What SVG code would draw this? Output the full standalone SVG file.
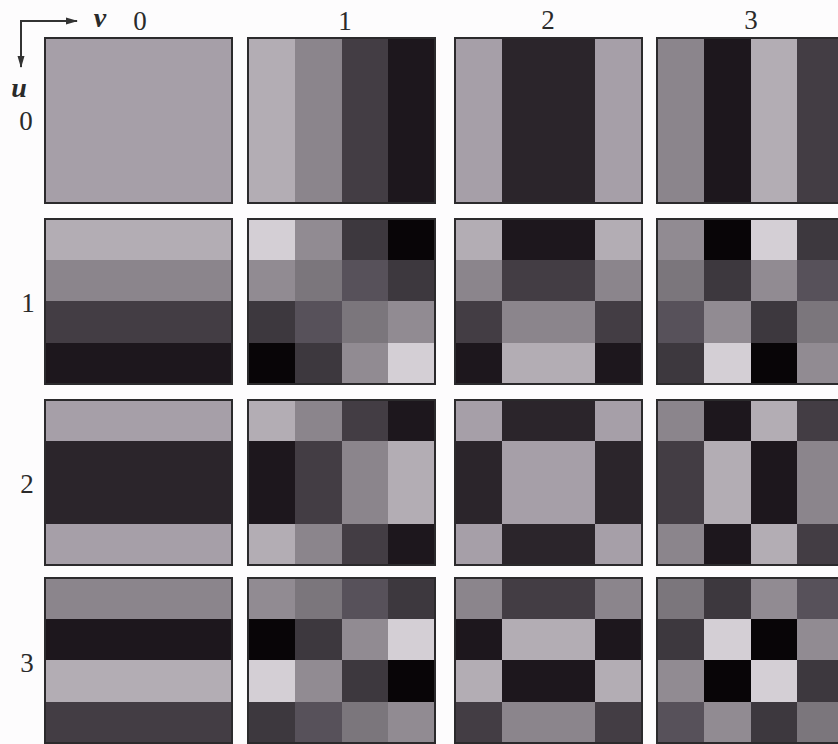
<svg xmlns="http://www.w3.org/2000/svg" width="838" height="744" viewBox="0 0 838 744">
<defs>
<style>
.p854{fill:#d4cfd5}.p653{fill:#b3adb4}.p5{fill:#a69fa8}.p354{fill:#918b92}.p271{fill:#8b858c}.p146{fill:#7b767c}
.n146{fill:#57515a}.n271{fill:#433d44}.n354{fill:#3d383e}.n5{fill:#2b252b}.n653{fill:#1d171d}.n854{fill:#080507}
.bd{fill:none;stroke:#2b2a2c;stroke-width:2}
.lbl{font-family:"Liberation Serif","Times New Roman",serif;font-size:27px;fill:#2a2a2a;text-anchor:middle}
.var{font-family:"Liberation Serif","Times New Roman",serif;font-size:28px;font-style:italic;font-weight:bold;fill:#2a2a2a;text-anchor:middle}
.ax{stroke:#333;stroke-width:2;fill:none}
</style>
<marker id="ah" viewBox="0 0 12 8" refX="11" refY="4" markerWidth="12" markerHeight="8" markerUnits="userSpaceOnUse" orient="auto">
<path d="M0,0.5 L12,4 L0,7.5 Z" fill="#333"/>
</marker>
</defs>
<rect width="838" height="744" fill="#fdfcfd"/>

<g id="axes">
<path class="ax" d="M21,21 H77" marker-end="url(#ah)"/>
<path class="ax" d="M21,20 V67" marker-end="url(#ah)"/>
</g>

<g id="labels">
<text class="var" x="100" y="27">v</text>
<text class="lbl" x="140" y="30">0</text>
<text class="lbl" x="345" y="30">1</text>
<text class="lbl" x="548" y="29">2</text>
<text class="lbl" x="751" y="29">3</text>
<text class="var" x="19" y="97">u</text>
<text class="lbl" x="26" y="130">0</text>
<text class="lbl" x="28" y="312">1</text>
<text class="lbl" x="27" y="493">2</text>
<text class="lbl" x="27" y="672">3</text>
</g>

<g id="tile-u0-v0" transform="translate(45,38)">
<rect class="p5" width="187" height="165"/>
<rect class="bd" width="187" height="165"/>
</g>
<g id="tile-u0-v1" transform="translate(248,38)">
<rect class="p653" x="0" width="47" height="165"/><rect class="p271" x="47" width="47" height="165"/><rect class="n271" x="94" width="47" height="165"/><rect class="n653" x="140" width="47" height="165"/>
<rect class="bd" width="187" height="165"/>
</g>
<g id="tile-u0-v2" transform="translate(455,38)">
<rect class="p5" x="0" width="47" height="165"/><rect class="n5" x="47" width="47" height="165"/><rect class="n5" x="94" width="47" height="165"/><rect class="p5" x="140" width="47" height="165"/>
<rect class="bd" width="187" height="165"/>
</g>
<g id="tile-u0-v3" transform="translate(657,38)">
<rect class="p271" x="0" width="47" height="165"/><rect class="n653" x="47" width="47" height="165"/><rect class="p653" x="94" width="47" height="165"/><rect class="n271" x="140" width="47" height="165"/>
<rect class="bd" width="187" height="165"/>
</g>

<g id="tile-u1-v0" transform="translate(45,219)">
<rect class="p653" y="0" width="187" height="42"/><rect class="p271" y="41" width="187" height="42"/><rect class="n271" y="82" width="187" height="42"/><rect class="n653" y="124" width="187" height="41"/>
<rect class="bd" width="187" height="165"/>
</g>
<g id="tile-u1-v1" transform="translate(248,219)">
<rect class="p854" x="0" y="0" width="47" height="42"/><rect class="p354" x="47" y="0" width="47" height="42"/><rect class="n354" x="94" y="0" width="47" height="42"/><rect class="n854" x="140" y="0" width="47" height="42"/>
<rect class="p354" x="0" y="41" width="47" height="42"/><rect class="p146" x="47" y="41" width="47" height="42"/><rect class="n146" x="94" y="41" width="47" height="42"/><rect class="n354" x="140" y="41" width="47" height="42"/>
<rect class="n354" x="0" y="82" width="47" height="42"/><rect class="n146" x="47" y="82" width="47" height="42"/><rect class="p146" x="94" y="82" width="47" height="42"/><rect class="p354" x="140" y="82" width="47" height="42"/>
<rect class="n854" x="0" y="124" width="47" height="41"/><rect class="n354" x="47" y="124" width="47" height="41"/><rect class="p354" x="94" y="124" width="47" height="41"/><rect class="p854" x="140" y="124" width="47" height="41"/>
<rect class="bd" width="187" height="165"/>
</g>
<g id="tile-u1-v2" transform="translate(455,219)">
<rect class="p653" x="0" y="0" width="47" height="42"/><rect class="n653" x="47" y="0" width="47" height="42"/><rect class="n653" x="94" y="0" width="47" height="42"/><rect class="p653" x="140" y="0" width="47" height="42"/>
<rect class="p271" x="0" y="41" width="47" height="42"/><rect class="n271" x="47" y="41" width="47" height="42"/><rect class="n271" x="94" y="41" width="47" height="42"/><rect class="p271" x="140" y="41" width="47" height="42"/>
<rect class="n271" x="0" y="82" width="47" height="42"/><rect class="p271" x="47" y="82" width="47" height="42"/><rect class="p271" x="94" y="82" width="47" height="42"/><rect class="n271" x="140" y="82" width="47" height="42"/>
<rect class="n653" x="0" y="124" width="47" height="41"/><rect class="p653" x="47" y="124" width="47" height="41"/><rect class="p653" x="94" y="124" width="47" height="41"/><rect class="n653" x="140" y="124" width="47" height="41"/>
<rect class="bd" width="187" height="165"/>
</g>
<g id="tile-u1-v3" transform="translate(657,219)">
<rect class="p354" x="0" y="0" width="47" height="42"/><rect class="n854" x="47" y="0" width="47" height="42"/><rect class="p854" x="94" y="0" width="47" height="42"/><rect class="n354" x="140" y="0" width="47" height="42"/>
<rect class="p146" x="0" y="41" width="47" height="42"/><rect class="n354" x="47" y="41" width="47" height="42"/><rect class="p354" x="94" y="41" width="47" height="42"/><rect class="n146" x="140" y="41" width="47" height="42"/>
<rect class="n146" x="0" y="82" width="47" height="42"/><rect class="p354" x="47" y="82" width="47" height="42"/><rect class="n354" x="94" y="82" width="47" height="42"/><rect class="p146" x="140" y="82" width="47" height="42"/>
<rect class="n354" x="0" y="124" width="47" height="41"/><rect class="p854" x="47" y="124" width="47" height="41"/><rect class="n854" x="94" y="124" width="47" height="41"/><rect class="p354" x="140" y="124" width="47" height="41"/>
<rect class="bd" width="187" height="165"/>
</g>

<g id="tile-u2-v0" transform="translate(45,400)">
<rect class="p5" y="0" width="187" height="42"/><rect class="n5" y="41" width="187" height="42"/><rect class="n5" y="82" width="187" height="42"/><rect class="p5" y="124" width="187" height="41"/>
<rect class="bd" width="187" height="165"/>
</g>
<g id="tile-u2-v1" transform="translate(248,400)">
<rect class="p653" x="0" y="0" width="47" height="42"/><rect class="p271" x="47" y="0" width="47" height="42"/><rect class="n271" x="94" y="0" width="47" height="42"/><rect class="n653" x="140" y="0" width="47" height="42"/>
<rect class="n653" x="0" y="41" width="47" height="42"/><rect class="n271" x="47" y="41" width="47" height="42"/><rect class="p271" x="94" y="41" width="47" height="42"/><rect class="p653" x="140" y="41" width="47" height="42"/>
<rect class="n653" x="0" y="82" width="47" height="42"/><rect class="n271" x="47" y="82" width="47" height="42"/><rect class="p271" x="94" y="82" width="47" height="42"/><rect class="p653" x="140" y="82" width="47" height="42"/>
<rect class="p653" x="0" y="124" width="47" height="41"/><rect class="p271" x="47" y="124" width="47" height="41"/><rect class="n271" x="94" y="124" width="47" height="41"/><rect class="n653" x="140" y="124" width="47" height="41"/>
<rect class="bd" width="187" height="165"/>
</g>
<g id="tile-u2-v2" transform="translate(455,400)">
<rect class="p5" x="0" y="0" width="47" height="42"/><rect class="n5" x="47" y="0" width="47" height="42"/><rect class="n5" x="94" y="0" width="47" height="42"/><rect class="p5" x="140" y="0" width="47" height="42"/>
<rect class="n5" x="0" y="41" width="47" height="42"/><rect class="p5" x="47" y="41" width="47" height="42"/><rect class="p5" x="94" y="41" width="47" height="42"/><rect class="n5" x="140" y="41" width="47" height="42"/>
<rect class="n5" x="0" y="82" width="47" height="42"/><rect class="p5" x="47" y="82" width="47" height="42"/><rect class="p5" x="94" y="82" width="47" height="42"/><rect class="n5" x="140" y="82" width="47" height="42"/>
<rect class="p5" x="0" y="124" width="47" height="41"/><rect class="n5" x="47" y="124" width="47" height="41"/><rect class="n5" x="94" y="124" width="47" height="41"/><rect class="p5" x="140" y="124" width="47" height="41"/>
<rect class="bd" width="187" height="165"/>
</g>
<g id="tile-u2-v3" transform="translate(657,400)">
<rect class="p271" x="0" y="0" width="47" height="42"/><rect class="n653" x="47" y="0" width="47" height="42"/><rect class="p653" x="94" y="0" width="47" height="42"/><rect class="n271" x="140" y="0" width="47" height="42"/>
<rect class="n271" x="0" y="41" width="47" height="42"/><rect class="p653" x="47" y="41" width="47" height="42"/><rect class="n653" x="94" y="41" width="47" height="42"/><rect class="p271" x="140" y="41" width="47" height="42"/>
<rect class="n271" x="0" y="82" width="47" height="42"/><rect class="p653" x="47" y="82" width="47" height="42"/><rect class="n653" x="94" y="82" width="47" height="42"/><rect class="p271" x="140" y="82" width="47" height="42"/>
<rect class="p271" x="0" y="124" width="47" height="41"/><rect class="n653" x="47" y="124" width="47" height="41"/><rect class="p653" x="94" y="124" width="47" height="41"/><rect class="n271" x="140" y="124" width="47" height="41"/>
<rect class="bd" width="187" height="165"/>
</g>

<g id="tile-u3-v0" transform="translate(45,578)">
<rect class="p271" y="0" width="187" height="42"/><rect class="n653" y="41" width="187" height="42"/><rect class="p653" y="82" width="187" height="42"/><rect class="n271" y="124" width="187" height="41"/>
<rect class="bd" width="187" height="165"/>
</g>
<g id="tile-u3-v1" transform="translate(248,578)">
<rect class="p354" x="0" y="0" width="47" height="42"/><rect class="p146" x="47" y="0" width="47" height="42"/><rect class="n146" x="94" y="0" width="47" height="42"/><rect class="n354" x="140" y="0" width="47" height="42"/>
<rect class="n854" x="0" y="41" width="47" height="42"/><rect class="n354" x="47" y="41" width="47" height="42"/><rect class="p354" x="94" y="41" width="47" height="42"/><rect class="p854" x="140" y="41" width="47" height="42"/>
<rect class="p854" x="0" y="82" width="47" height="42"/><rect class="p354" x="47" y="82" width="47" height="42"/><rect class="n354" x="94" y="82" width="47" height="42"/><rect class="n854" x="140" y="82" width="47" height="42"/>
<rect class="n354" x="0" y="124" width="47" height="41"/><rect class="n146" x="47" y="124" width="47" height="41"/><rect class="p146" x="94" y="124" width="47" height="41"/><rect class="p354" x="140" y="124" width="47" height="41"/>
<rect class="bd" width="187" height="165"/>
</g>
<g id="tile-u3-v2" transform="translate(455,578)">
<rect class="p271" x="0" y="0" width="47" height="42"/><rect class="n271" x="47" y="0" width="47" height="42"/><rect class="n271" x="94" y="0" width="47" height="42"/><rect class="p271" x="140" y="0" width="47" height="42"/>
<rect class="n653" x="0" y="41" width="47" height="42"/><rect class="p653" x="47" y="41" width="47" height="42"/><rect class="p653" x="94" y="41" width="47" height="42"/><rect class="n653" x="140" y="41" width="47" height="42"/>
<rect class="p653" x="0" y="82" width="47" height="42"/><rect class="n653" x="47" y="82" width="47" height="42"/><rect class="n653" x="94" y="82" width="47" height="42"/><rect class="p653" x="140" y="82" width="47" height="42"/>
<rect class="n271" x="0" y="124" width="47" height="41"/><rect class="p271" x="47" y="124" width="47" height="41"/><rect class="p271" x="94" y="124" width="47" height="41"/><rect class="n271" x="140" y="124" width="47" height="41"/>
<rect class="bd" width="187" height="165"/>
</g>
<g id="tile-u3-v3" transform="translate(657,578)">
<rect class="p146" x="0" y="0" width="47" height="42"/><rect class="n354" x="47" y="0" width="47" height="42"/><rect class="p354" x="94" y="0" width="47" height="42"/><rect class="n146" x="140" y="0" width="47" height="42"/>
<rect class="n354" x="0" y="41" width="47" height="42"/><rect class="p854" x="47" y="41" width="47" height="42"/><rect class="n854" x="94" y="41" width="47" height="42"/><rect class="p354" x="140" y="41" width="47" height="42"/>
<rect class="p354" x="0" y="82" width="47" height="42"/><rect class="n854" x="47" y="82" width="47" height="42"/><rect class="p854" x="94" y="82" width="47" height="42"/><rect class="n354" x="140" y="82" width="47" height="42"/>
<rect class="n146" x="0" y="124" width="47" height="41"/><rect class="p354" x="47" y="124" width="47" height="41"/><rect class="n354" x="94" y="124" width="47" height="41"/><rect class="p146" x="140" y="124" width="47" height="41"/>
<rect class="bd" width="187" height="165"/>
</g>
</svg>
